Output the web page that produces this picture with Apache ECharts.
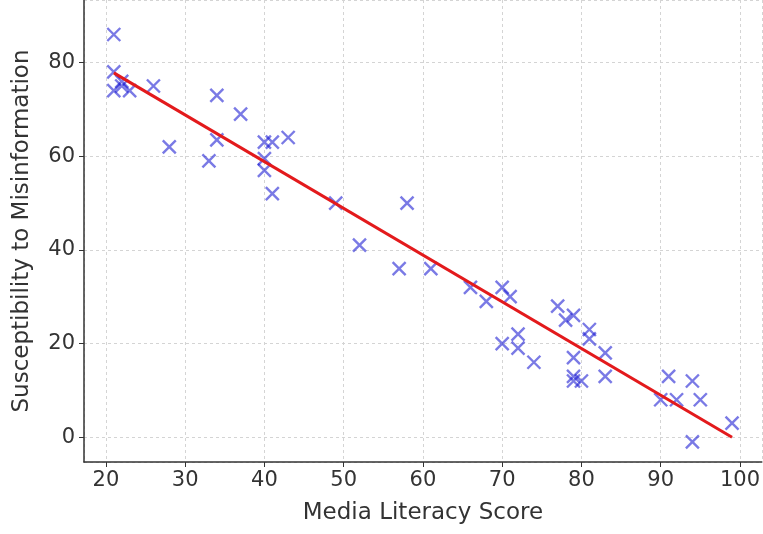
<!DOCTYPE html>
<html lang="en">
<head>
    <meta charset="UTF-8">
    <title>Media Literacy vs Susceptibility</title>
    <script src="https://cdn.jsdelivr.net/npm/echarts/dist/echarts.min.js"></script>
</head>
<body style="margin: 0; background: #fff">
    <div id="chart" style="width: 763px; height: 534px;"></div>
    <script>
        // scores
        const literacy = [21, 21, 21, 22, 22, 23, 26, 28, 33, 34, 34, 37, 40, 41, 43, 40, 40, 41,
            49, 52, 57, 58, 61, 66, 68, 70, 71, 70, 72, 72, 74, 77, 78, 79, 79, 79, 79, 80,
            81, 81, 83, 83, 90, 91, 92, 94, 94, 95, 99];
        const susceptibility = [86, 78, 74, 75, 76, 74, 75, 62, 59, 73, 63.5, 69, 63, 63, 64, 59.5, 57, 52,
            50, 41, 36, 50, 36, 32, 29, 32, 30, 20, 22, 19, 16, 28, 25, 26, 17, 13, 12, 12,
            23, 21, 18, 13, 8, 13, 8, 12, -1, 8, 3];
        // fitted line endpoints
        const fitX = [21, 99];
        const fitY = [77.8, 0];

        const points = literacy.map((x, i) => [x, susceptibility[i]]);
        const fitLine = fitX.map((x, i) => [x, fitY[i]]);

        const chart = echarts.init(document.getElementById('chart'));
        const font = 'DejaVu Sans';

        chart.setOption({
            animation: false,
            grid: { left: 84, right: -3, top: -3, bottom: 72 },
            xAxis: {
                type: 'value',
                min: 17.24,
                max: 102.76,
                splitNumber: 9,
                name: 'Media Literacy Score',
                nameLocation: 'middle',
                nameGap: 40,
                nameTextStyle: { fontFamily: font, fontSize: 23, color: '#333' },
                axisLine: { onZero: false, lineStyle: { color: '#333', width: 1.5 } },
                axisTick: { length: 5, lineStyle: { color: '#333' } },
                axisLabel: {
                    fontFamily: font, fontSize: 21, color: '#333', margin: 8,
                    showMinLabel: false, showMaxLabel: false
                },
                splitLine: { show: true, lineStyle: { color: '#d4d4d4', type: [3, 3] } }
            },
            yAxis: {
                type: 'value',
                min: -5.3,
                max: 93.37,
                splitNumber: 5,
                name: 'Susceptibility to Misinformation',
                nameLocation: 'middle',
                nameGap: 50,
                nameTextStyle: { fontFamily: font, fontSize: 23, color: '#333' },
                axisLine: { show: true, onZero: false, lineStyle: { color: '#333', width: 1.5 } },
                axisTick: { show: true, length: 5, lineStyle: { color: '#333' } },
                axisLabel: {
                    fontFamily: font, fontSize: 21, color: '#333', margin: 9,
                    showMinLabel: false, showMaxLabel: false
                },
                splitLine: { show: true, lineStyle: { color: '#d4d4d4', type: [3, 3] } }
            },
            series: [
                {
                    type: 'scatter',
                    data: points,
                    symbol: 'path://M0,0L10,10M10,0L0,10',
                    symbolSize: 13,
                    itemStyle: {
                        color: 'rgba(0,0,0,0)',
                        borderColor: 'rgba(25,25,210,0.72)',
                        borderWidth: 2.4
                    }
                },
                {
                    type: 'line',
                    data: fitLine,
                    symbol: 'none',
                    lineStyle: { color: '#e31a1c', width: 3 },
                    z: 3
                }
            ]
        });
    </script>
</body>
</html>
